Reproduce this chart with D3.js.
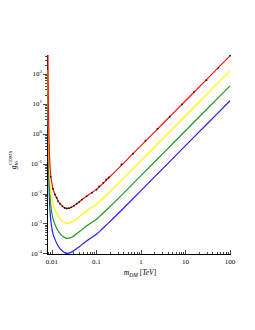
<!DOCTYPE html>
<html><head><meta charset="utf-8">
<script src="https://cdn.jsdelivr.net/npm/d3@7"></script>
<style>body{margin:0;background:#fff}svg{display:block}text{font-family:"Liberation Serif","DejaVu Serif",serif}</style>
</head><body>
<script>
const mass = [0.008128,0.008185,0.008279,0.008414,0.008590,0.008810,0.009120,0.009506,0.01,0.010715,0.011749,0.013183,0.015136,0.017378,0.020417,0.023988,0.028184,0.033884,0.041687,0.052481,0.069183,0.1,0.14125,0.19953,0.39811,1,3.1623,10,31.623,100];
const gRed = [426.6,79.43,14.13,2.512,0.5623,0.1778,0.06761,0.03467,0.02089,0.01318,0.009120,0.006310,0.004571,0.003715,0.003236,0.003236,0.003548,0.004266,0.005370,0.007079,0.009550,0.01380,0.02239,0.03631,0.1,0.3981,2.239,12.59,70.79,398.1];
const gYellow = [134.9,25.12,4.467,0.7943,0.1778,0.05623,0.02138,0.01096,0.006607,0.004169,0.002884,0.001995,0.001445,0.001175,0.001023,0.001023,0.001122,0.001349,0.001698,0.002239,0.003020,0.004365,0.007079,0.01148,0.03162,0.1259,0.7079,3.981,22.39,125.9];
const gGreen = [42.66,7.943,1.413,0.2512,0.05623,0.01778,0.006761,0.003467,0.002089,0.001318,0.0009120,0.0006310,0.0004571,0.0003715,0.0003236,0.0003236,0.0003548,0.0004266,0.0005370,0.0007079,0.0009550,0.001380,0.002239,0.003631,0.01,0.03981,0.2239,1.259,7.079,39.81];
const gBlue = [13.49,2.512,0.4467,0.07943,0.01778,0.005623,0.002138,0.001096,0.0006607,0.0004169,0.0002884,0.0001995,0.0001445,0.0001175,0.0001023,0.0001023,0.0001122,0.0001349,0.0001698,0.0002239,0.0003020,0.0004365,0.0007079,0.001148,0.003162,0.01259,0.07079,0.3981,2.239,12.59];
const dotMass = [0.009333,0.010520,0.011668,0.012735,0.013646,0.015101,0.017061,0.019231,0.021330,0.024044,0.027102,0.031117,0.035727,0.041020,0.047098,0.059841,0.079433,0.1,0.11482,0.14125,0.16596,0.19055,0.36308,0.66069,1.2589,2.3442,4.4259,8.3176,15.488,29.512,54.954,100];
const dotG = [0.03631,0.01445,0.009333,0.007244,0.005623,0.004571,0.003802,0.003311,0.003162,0.003236,0.003467,0.003890,0.004571,0.005248,0.006310,0.008128,0.01072,0.01349,0.01738,0.02291,0.02951,0.03467,0.09333,0.2138,0.5888,1.4454,3.7154,9.5499,24.547,61.660,158.49,407.4];
const xTickVals = [0.01,0.1,1,10,100];
const xTickLabels = ["0.01","0.1","1","10","100"];
const yTickExps = [-4,-3,-2,-1,0,1,2];

const W=255,H=330;
const svg=d3.select("body").append("svg").attr("width",W).attr("height",H);
const x=d3.scaleLog().domain([Math.pow(10,-2.112),100]).range([47,230]);
const y=d3.scaleLog().domain([Math.pow(10,-4.02),Math.pow(10,2.63)]).range([254,55]);

// axes lines
const ax=svg.append("g").attr("stroke","#000").attr("stroke-width",1);
ax.append("line").attr("x1",47.5).attr("x2",47.5).attr("y1",55).attr("y2",254.5);
ax.append("line").attr("x1",47).attr("x2",231).attr("y1",254.5).attr("y2",254.5);

// x ticks
const xMinor=[];
for(let e=-3;e<=2;e++)for(let k=1;k<10;k++){const v=k*Math.pow(10,e);if(v>=x.domain()[0]&&v<=100.0001)xMinor.push({v,major:k===1});}
svg.append("g").selectAll("line").data(xMinor).join("line")
  .attr("x1",d=>Math.round(x(d.v))+0.5).attr("x2",d=>Math.round(x(d.v))+0.5)
  .attr("y1",254).attr("y2",d=>d.major?250:252).attr("stroke","#000").attr("stroke-width",0.7);
svg.append("g").selectAll("text").data(xTickVals).join("text")
  .attr("x",d=>x(d)).attr("y",264).attr("text-anchor","middle").attr("font-size",7).text((d,i)=>xTickLabels[i]);

// y ticks
const yMinor=[];
for(let e=-5;e<=2;e++)for(let k=1;k<10;k++){const v=k*Math.pow(10,e);if(v>=y.domain()[0]&&v<=y.domain()[1])yMinor.push({v,major:k===1});}
svg.append("g").selectAll("line").data(yMinor).join("line")
  .attr("y1",d=>Math.round(y(d.v))+0.5).attr("y2",d=>Math.round(y(d.v))+0.5)
  .attr("x1",47).attr("x2",d=>d.major?43:45).attr("stroke","#000").attr("stroke-width",0.7);
const yl=svg.append("g").selectAll("text").data(yTickExps).join("text")
  .attr("x",42).attr("y",d=>y(Math.pow(10,d))+2.5).attr("text-anchor","end").attr("font-size",7);
yl.append("tspan").text("10");
yl.append("tspan").attr("dy",-3).attr("font-size",5).text(d=>d<0?"-"+(-d):""+d);

// curves
const line=d3.line().x(d=>x(d[0])).y(d=>y(d[1])).curve(d3.curveCatmullRom.alpha(0.5));
const series=[[gBlue,"#2020ff"],[gGreen,"#1f9a1f"],[gYellow,"#ffff00"],[gRed,"#ff1010"]];
series.forEach(([g,c])=>{
  svg.append("path").datum(mass.map((m,i)=>[m,g[i]])).attr("d",line)
    .attr("fill","none").attr("stroke",c).attr("stroke-width",1.2);
});
// dots
svg.append("g").selectAll("circle").data(dotMass.map((m,i)=>[m,dotG[i]])).join("circle")
  .attr("cx",d=>x(d[0])).attr("cy",d=>y(d[1])).attr("r",0.9).attr("fill","#111");

// axis labels
const xl=svg.append("text").attr("x",140).attr("y",275).attr("text-anchor","middle").attr("font-size",7.5);
xl.append("tspan").attr("font-style","italic").text("m");
xl.append("tspan").attr("font-style","italic").attr("font-size",5.5).attr("dy",2).text("DM");
xl.append("tspan").attr("dy",-2).text(" [");
xl.append("tspan").attr("font-style","italic").text("TeV");
xl.append("tspan").text("]");

const ylab=svg.append("text").attr("transform","translate(16,160) rotate(-90)").attr("text-anchor","middle").attr("font-size",7.5);
ylab.append("tspan").attr("font-style","italic").text("g");
ylab.append("tspan").attr("font-size",5).attr("dy",2).text("M");
ylab.append("tspan").attr("font-size",5).attr("dx",-4).attr("dy",-6).text("CDMS");
</script>
</body></html>
